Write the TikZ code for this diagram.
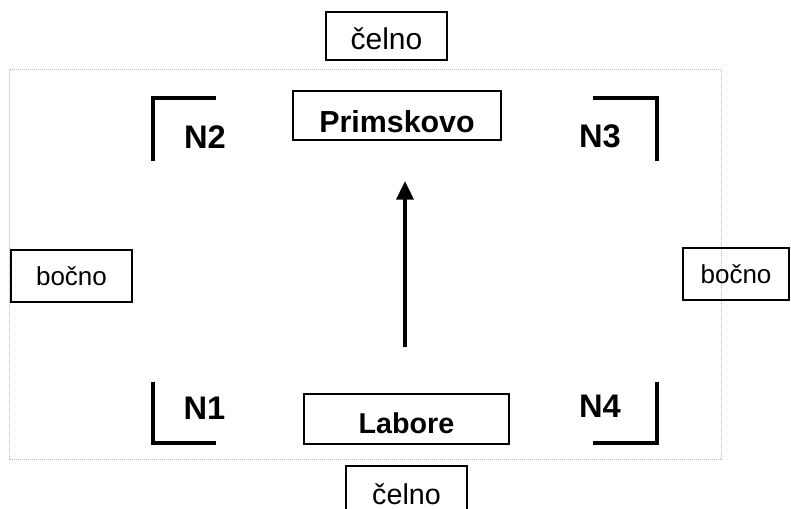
\documentclass[tikz,border=0pt]{standalone}
\usepackage{fontspec}
\setmainfont{Liberation Sans}
\usetikzlibrary{arrows.meta}
\tikzset{
  okvir/.style={draw,line width=1.5pt,inner sep=0pt,text depth=0pt},
  kot/.style={line width=3pt},
  oznaka/.style={font=\bfseries\fontsize{24.5}{29}\selectfont,inner sep=0pt},
}
\begin{document}
\begin{tikzpicture}[x=0.75pt,y=-0.75pt]
  \useasboundingbox (0,0) rectangle (791,509);
  \draw[black!28,line width=0.75pt,dash pattern=on 0.75pt off 0.75pt] (9,70) rectangle (721,459);
  \node[okvir,minimum width=90.75pt,minimum height=36pt,text height=20pt,font=\fontsize{22.5}{27}\selectfont] (celnoZ) at (386.5,36.5) {čelno};
  \node[okvir,minimum width=90.75pt,minimum height=36pt,text height=22pt,font=\fontsize{21.5}{26}\selectfont] (celnoS) at (406.5,490) {čelno};
  \node[okvir,minimum width=90.75pt,minimum height=39pt,font=\fontsize{19.5}{24}\selectfont] (bocnoL) at (71.5,276) {bočno};
  \node[okvir,minimum width=79.5pt,minimum height=39pt,font=\fontsize{19.5}{24}\selectfont] (bocnoD) at (736,274) {bočno};
  \node[okvir,minimum width=156pt,minimum height=36.75pt,text height=26pt,font=\bfseries\fontsize{22.8}{27}\selectfont] (prim) at (397,115.5) {Primskovo};
  \node[okvir,minimum width=153.75pt,minimum height=37.5pt,text height=21.4pt,font=\bfseries\fontsize{21.5}{26}\selectfont] (labore) at (406.5,419) {Labore};
  \node[oznaka] (n2) at (205,137) {N2};
  \node[oznaka] (n3) at (600,136) {N3};
  \node[oznaka] (n1) at (204.5,408) {N1};
  \node[oznaka] (n4) at (600,406) {N4};
  \draw[kot] (216,98.3) -- (153.3,98.3) -- (153.3,161);
  \draw[kot] (593.3,98.3) -- (656.5,98.3) -- (656.5,161.5);
  \draw[kot] (153.3,381.7) -- (153.3,442.7) -- (216,442.7);
  \draw[kot] (593,442.7) -- (656.5,442.7) -- (656.5,381.7);
  \coordinate (pocetek) at (405,347);
  \coordinate (vrh) at (405,181);
  \draw[line width=2.6pt,-{Triangle[width=12.75pt,length=14pt]}] (pocetek) -- (vrh);
\end{tikzpicture}
\end{document}
